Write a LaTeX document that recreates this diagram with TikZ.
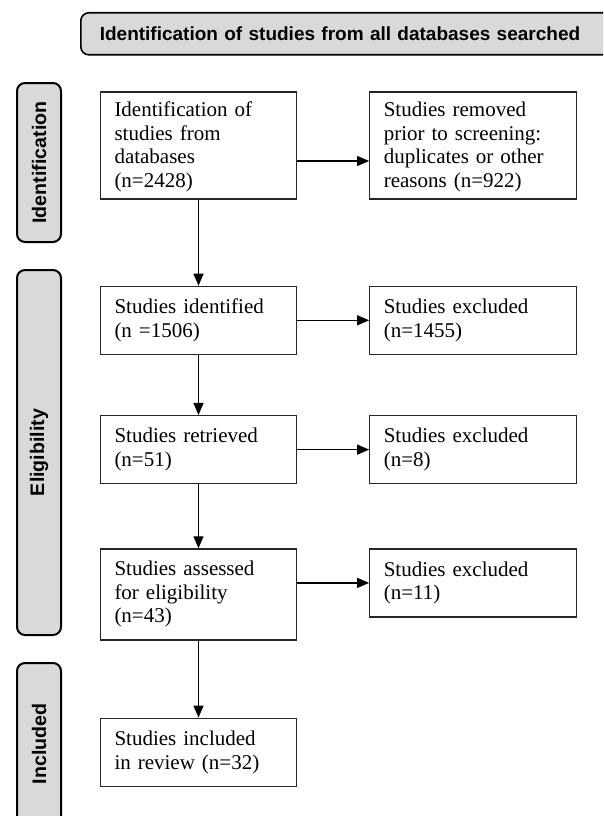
\documentclass[tikz,border=0pt]{standalone}
\usepackage{fontspec}
\setmainfont{Liberation Serif}
\setsansfont{Liberation Sans}
\usepackage{tikz}
\usetikzlibrary{positioning, arrows.meta}
\definecolor{phasegray}{HTML}{D9D9D9}

\begin{document}
\begin{tikzpicture}[x=1pt,y=-1pt,->,>={Triangle[length=12pt,width=10pt]},line width=1.3pt,node distance=72pt]
\tikzstyle{box}=[draw=black!85,fill=white,align=left,inner xsep=14pt,inner ysep=4pt,font=\fontsize{21}{23.5}\selectfont]
\tikzstyle{phase}=[draw=black,line width=2pt,fill=phasegray,rounded corners=8pt,rotate=90,minimum height=44pt,font=\sffamily\bfseries\fontsize{19.6}{22}\selectfont]
\tikzstyle{banner}=[draw=black,line width=1.6pt,fill=phasegray,rounded corners=8pt,align=left,inner xsep=19pt,minimum height=42pt,font=\sffamily\bfseries\fontsize{19}{22}\selectfont]
\useasboundingbox (0,0) rectangle (603,816);
\clip (0,0) rectangle (603,816);

\node[banner,anchor=north west,text width=522pt] (top) at (80,12) {Identification of studies from all databases searched};

\node[phase,minimum width=159pt] (idlab) at (39,162.5) {Identification};
\node[phase,minimum width=365pt] (ellab) at (39,452.5) {Eligibility};
\node[phase,minimum width=162pt] (inlab) at (39,744) {Included};

\node[box,text width=168pt,minimum height=107pt] (A) at (198.5,145.5) {\vphantom{I}\\[-20pt]Identification of\\studies from\\databases\\(n=2428)};
\node[box,text width=179pt,minimum height=107pt] (B) [right=of A] {\vphantom{I}\\[-20pt]Studies removed\\prior to screening:\\duplicates or other\\reasons (n=922)};
\node[box,text width=168pt,minimum height=68pt] (C) [below=86pt of A] {Studies identified\\(n =1506)};
\node[box,text width=179pt,minimum height=68pt] (D) [right=of C] {Studies excluded\\(n=1455)};
\node[box,text width=168pt,minimum height=68pt] (E) [below=60pt of C] {Studies retrieved\\(n=51)};
\node[box,text width=179pt,minimum height=68pt] (F) [right=of E] {Studies excluded\\(n=8)};
\node[box,text width=168pt,minimum height=91pt] (G) [below=64pt of E] {Studies assessed\\for eligibility\\(n=43)};
\node[box,text width=179pt,minimum height=68pt] (H) [right=of G.north east,anchor=north west] {Studies excluded\\(n=11)};
\node[box,text width=168pt,minimum height=68pt] (I) [below=77pt of G] {Studies included\\in review (n=32)};

\draw ([yshift=-15.5pt]A.east) -- ([yshift=-15.5pt]B.west);
\draw (A) -- (C);
\draw (C) -- (D);
\draw (C) -- (E);
\draw (E) -- (F);
\draw (E) -- (G);
\draw (G.east |- H.west) -- (H.west);
\draw (G) -- (I);
\end{tikzpicture}
\end{document}
